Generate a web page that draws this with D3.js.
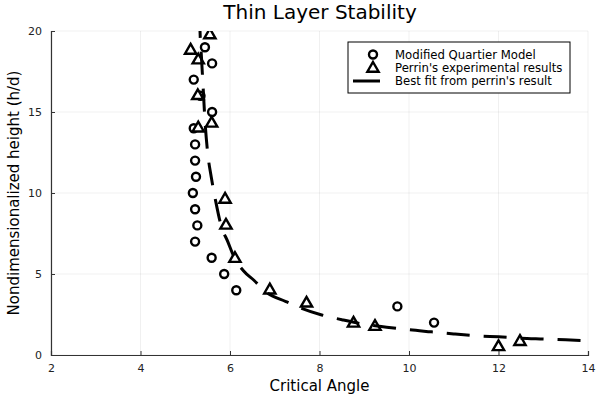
<!DOCTYPE html>
<html>
<head>
<meta charset="utf-8">
<script src="https://cdn.jsdelivr.net/npm/d3@7"></script>
<style>
  body { margin: 0; background: #fff; }
  text { font-family: "DejaVu Sans", sans-serif; }
</style>
</head>
<body>
<svg class="chart" width="600" height="400"></svg>
<script>
// Modified Quartier Model
const quartierAngle = [5.44, 5.60, 5.19, 5.34, 5.60, 5.19, 5.22, 5.22, 5.24, 5.17, 5.22, 5.27, 5.22, 5.59, 5.87, 6.14, 9.74, 10.56];
const quartierHeight = [19, 18, 17, 16, 15, 14, 13, 12, 11, 10, 9, 8, 7, 6, 5, 4, 3, 2];

// Perrin's experimental results
const perrinAngle = [5.55, 5.12, 5.29, 5.28, 5.59, 5.29, 5.89, 5.91, 6.11, 6.89, 7.71, 8.76, 9.24, 12.0, 12.48];
const perrinHeight = [19.75, 18.8, 18.2, 16.0, 14.3, 14.0, 9.6, 8.0, 5.95, 4.0, 3.19, 1.95, 1.75, 0.5, 0.82];

// Best fit from perrin's result
const fitAngle = [5.32, 5.33, 5.36, 5.40, 5.44, 5.50, 5.58, 5.68, 5.80, 5.95, 6.10, 6.30, 6.54, 6.80, 7.25, 7.60, 8.05, 8.50, 9.00, 9.50, 10.0, 10.5, 11.0, 11.5, 12.0, 12.5, 13.0, 13.5, 14.0];
const fitHeight = [21, 20, 18.5, 16.5, 14.5, 12.5, 11, 9.5, 8, 7, 6, 5.2, 4.6, 3.9, 3.3, 2.88, 2.47, 2.18, 1.9, 1.72, 1.56, 1.43, 1.3, 1.19, 1.12, 1.04, 0.99, 0.94, 0.88];

const xTicks = [2, 4, 6, 8, 10, 12, 14];
const yTicks = [0, 5, 10, 15, 20];

const legendLabels = ["Modified Quartier Model", "Perrin's experimental results", "Best fit from perrin's result"];

const margin = { top: 31, right: 12, bottom: 45, left: 51 };
const width = 600 - margin.left - margin.right;
const height = 400 - margin.top - margin.bottom;

const svg = d3.select(".chart");

const chart = svg
  .append("g")
  .attr("transform", `translate(${margin.left}, ${margin.top})`);

const xScale = d3.scaleLinear().domain([2, 14]).range([0, width]);
const yScale = d3.scaleLinear().domain([0, 20]).range([height, 0]);

// grid
chart.append("g")
  .selectAll("line")
  .data(xTicks)
  .enter()
  .append("line")
  .attr("x1", d => xScale(d))
  .attr("x2", d => xScale(d))
  .attr("y1", 0)
  .attr("y2", height)
  .attr("stroke", "#000")
  .attr("stroke-opacity", 0.1)
  .attr("stroke-width", 0.6);

chart.append("g")
  .selectAll("line")
  .data(yTicks)
  .enter()
  .append("line")
  .attr("x1", 0)
  .attr("x2", width)
  .attr("y1", d => yScale(d))
  .attr("y2", d => yScale(d))
  .attr("stroke", "#000")
  .attr("stroke-opacity", 0.1)
  .attr("stroke-width", 0.6);

// axes
const xAxis = chart
  .append("g")
  .attr("transform", `translate(0, ${height})`)
  .call(d3.axisBottom(xScale).tickValues(xTicks).tickSize(-4).tickPadding(9));

const yAxis = chart
  .append("g")
  .call(d3.axisLeft(yScale).tickValues(yTicks).tickSize(-4).tickPadding(9));

[xAxis, yAxis].forEach(ax => {
  ax.select(".domain").attr("stroke", "#333").attr("stroke-width", 1.2);
  ax.selectAll(".tick line").attr("stroke", "#333").attr("stroke-width", 1);
  ax.selectAll("text")
    .style("font-family", "DejaVu Sans, sans-serif")
    .style("font-size", "11px")
    .attr("fill", "#222");
});

// clip to plot area
chart.append("clipPath")
  .attr("id", "plot-clip")
  .append("rect")
  .attr("x", -10)
  .attr("y", 0)
  .attr("width", width + 10)
  .attr("height", height);

const plot = chart.append("g").attr("clip-path", "url(#plot-clip)");

// circles
plot.selectAll(".quartier")
  .data(quartierAngle)
  .enter()
  .append("circle")
  .attr("class", "quartier")
  .attr("cx", d => xScale(d))
  .attr("cy", (d, i) => yScale(quartierHeight[i]))
  .attr("r", 4)
  .attr("fill", "#fff")
  .attr("stroke", "#000")
  .attr("stroke-width", 2.4);

// triangles
const tri = d3.symbol().type(d3.symbolTriangle).size(55);
plot.selectAll(".perrin")
  .data(perrinAngle)
  .enter()
  .append("path")
  .attr("class", "perrin")
  .attr("d", tri)
  .attr("transform", (d, i) => `translate(${xScale(d)}, ${yScale(perrinHeight[i])})`)
  .attr("fill", "#fff")
  .attr("stroke", "#000")
  .attr("stroke-width", 2.4)
  .attr("stroke-linejoin", "miter");

// fit line
const line = d3.line()
  .x(d => xScale(d[0]))
  .y(d => yScale(d[1]))
  .curve(d3.curveMonotoneX);

plot.append("path")
  .datum(fitAngle.map((a, i) => [a, fitHeight[i]]))
  .attr("d", line)
  .attr("fill", "none")
  .attr("stroke", "#000")
  .attr("stroke-width", 3)
  .attr("stroke-dasharray", "23,14");

// title
svg.append("text")
  .attr("x", 320)
  .attr("y", 19)
  .attr("text-anchor", "middle")
  .style("font-size", "20px")
  .text("Thin Layer Stability");

// x label
svg.append("text")
  .attr("x", margin.left + width / 2)
  .attr("y", 391)
  .attr("text-anchor", "middle")
  .style("font-size", "15px")
  .text("Critical Angle");

// y label
svg.append("text")
  .attr("transform", "rotate(-90)")
  .attr("x", -(margin.top + height / 2))
  .attr("y", 19)
  .attr("text-anchor", "middle")
  .style("font-size", "15px")
  .text("Nondimensionalized height (h/d)");

// legend
const legend = svg.append("g").attr("transform", "translate(348, 42)");

legend.append("rect")
  .attr("width", 222)
  .attr("height", 51)
  .attr("fill", "#fff")
  .attr("stroke", "#000")
  .attr("stroke-width", 1);

legend.selectAll("text")
  .data(legendLabels)
  .enter()
  .append("text")
  .attr("x", 47)
  .attr("y", (d, i) => 12.5 + i * 13.3)
  .attr("dy", "0.35em")
  .style("font-size", "11.7px")
  .text(d => d);

legend.append("circle")
  .attr("cx", 25)
  .attr("cy", 12.5)
  .attr("r", 4)
  .attr("fill", "#fff")
  .attr("stroke", "#000")
  .attr("stroke-width", 2.4);

legend.append("path")
  .attr("d", tri)
  .attr("transform", "translate(25, 26.5)")
  .attr("fill", "#fff")
  .attr("stroke", "#000")
  .attr("stroke-width", 2.4);

legend.append("line")
  .attr("x1", 5)
  .attr("x2", 32)
  .attr("y1", 39)
  .attr("y2", 39)
  .attr("stroke", "#000")
  .attr("stroke-width", 3);
</script>
</body>
</html>
